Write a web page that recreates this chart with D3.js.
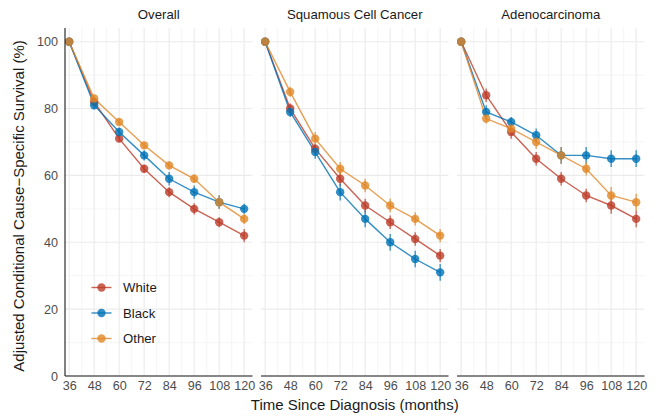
<!DOCTYPE html>
<html><head><meta charset="utf-8">
<script src="https://cdn.jsdelivr.net/npm/d3@7"></script>
<style>body{margin:0;background:#fff;}svg{display:block;font-family:"Liberation Sans",Arial,sans-serif;}</style>
</head><body><svg id="c" width="659" height="416"></svg>
<script>
const months = [36, 48, 60, 72, 84, 96, 108, 120];
const panels = ["Overall", "Squamous Cell Cancer", "Adenocarcinoma"];
const groups = ["White", "Black", "Other"];
const colors = ["#BC3C29", "#0072B5", "#E18727"];
const yTicks = [0, 20, 40, 60, 80, 100];

// Overall
const overallWhite = [100, 82, 71, 62, 55, 50, 46, 42];
const overallBlack = [100, 81, 73, 66, 59, 55, 52, 50];
const overallOther = [100, 83, 76, 69, 63, 59, 52, 47];
const overallWhiteErr = [0, 1, 1, 1.2, 1.5, 1.7, 1.5, 2];
const overallBlackErr = [0, 1.2, 1.3, 1.5, 2, 2, 2, 1.5];
const overallOtherErr = [0, 1, 1, 1, 1.2, 1.3, 2, 1.5];
// Squamous
const squamousWhite = [100, 80, 68, 59, 51, 46, 41, 36];
const squamousBlack = [100, 79, 67, 55, 47, 40, 35, 31];
const squamousOther = [100, 85, 71, 62, 57, 51, 47, 42];
const squamousWhiteErr = [0, 1.5, 1.5, 2, 2, 2, 2, 2];
const squamousBlackErr = [0, 1.5, 2, 2.5, 2.5, 2.5, 2.5, 2.5];
const squamousOtherErr = [0, 1.5, 2, 2, 2, 2, 2, 2];
// Adenocarcinoma
const adenoWhite = [100, 84, 73, 65, 59, 54, 51, 47];
const adenoBlack = [100, 79, 76, 72, 66, 66, 65, 65];
const adenoOther = [100, 77, 74, 70, 66, 62, 54, 52];
const adenoWhiteErr = [0, 2, 2, 2, 2, 2, 2.5, 2.5];
const adenoBlackErr = [0, 2, 1.5, 2, 2.5, 2.5, 2.5, 2.5];
const adenoOtherErr = [0, 1.5, 1.5, 2, 2.5, 2, 2.5, 2.5];

const panelData = [
  [[overallWhite, overallWhiteErr], [overallBlack, overallBlackErr], [overallOther, overallOtherErr]],
  [[squamousWhite, squamousWhiteErr], [squamousBlack, squamousBlackErr], [squamousOther, squamousOtherErr]],
  [[adenoWhite, adenoWhiteErr], [adenoBlack, adenoBlackErr], [adenoOther, adenoOtherErr]]
];

const svg = d3.select("#c");
const pTop = 28, pBottom = 376, pw = 187.5;
const lefts = [65, 261, 457];
const y = d3.scaleLinear().domain([0, 104.1]).range([pBottom, pTop]);
const alpha = 0.8;
const tickFont = 12.6;

panelData.forEach((series, pi) => {
  const x = d3.scaleLinear().domain([34, 124]).range([lefts[pi], lefts[pi] + pw]);
  const g = svg.append("g");
  // minor grid
  const minorX = d3.range(42, 120, 12);
  g.selectAll(".mx").data(minorX).join("line")
    .attr("x1", d => x(d)).attr("x2", d => x(d)).attr("y1", pTop).attr("y2", pBottom)
    .attr("stroke", "#f0f0f0").attr("stroke-width", 0.6);
  g.selectAll(".my").data([10, 30, 50, 70, 90]).join("line")
    .attr("x1", lefts[pi]).attr("x2", lefts[pi] + pw).attr("y1", d => y(d)).attr("y2", d => y(d))
    .attr("stroke", "#f0f0f0").attr("stroke-width", 0.6);
  // major grid
  g.selectAll(".Mx").data(months).join("line")
    .attr("x1", d => x(d)).attr("x2", d => x(d)).attr("y1", pTop).attr("y2", pBottom)
    .attr("stroke", "#ebebeb").attr("stroke-width", 1.1);
  g.selectAll(".My").data(yTicks).join("line")
    .attr("x1", lefts[pi]).attr("x2", lefts[pi] + pw).attr("y1", d => y(d)).attr("y2", d => y(d))
    .attr("stroke", "#ebebeb").attr("stroke-width", 1.1);
  // x axis
  const xa = d3.axisBottom(x).tickValues(months).tickSize(0).tickPadding(5);
  const ax = svg.append("g").attr("transform", `translate(0,${pBottom})`).call(xa);
  ax.select(".domain").remove();
  ax.selectAll("text").attr("font-size", tickFont).attr("fill", "#4d4d4d").attr("font-family", "Liberation Sans, Arial, sans-serif");
  svg.append("line").attr("x1", lefts[pi]).attr("x2", lefts[pi] + pw).attr("y1", pBottom).attr("y2", pBottom)
    .attr("stroke", "#1a1a1a").attr("stroke-width", 1.1);
  // facet title
  svg.append("text").attr("x", lefts[pi] + pw / 2).attr("y", 19).attr("text-anchor", "middle")
    .attr("font-size", 13.2).attr("fill", "#1a1a1a").text(panels[pi]);

  const line = d3.line().x((d, i) => x(months[i])).y(d => y(d));
  series.forEach(([vals, errs], si) => {
    const sg = svg.append("g").attr("opacity", alpha);
    sg.append("path").attr("d", line(vals)).attr("fill", "none")
      .attr("stroke", colors[si]).attr("stroke-width", 1.4);
  });
  series.forEach(([vals, errs], si) => {
    const sg = svg.append("g").attr("opacity", alpha);
    sg.selectAll("line.e").data(vals).join("line")
      .attr("x1", (d, i) => x(months[i])).attr("x2", (d, i) => x(months[i]))
      .attr("y1", (d, i) => y(d - errs[i])).attr("y2", (d, i) => y(d + errs[i]))
      .attr("stroke", colors[si]).attr("stroke-width", 1.3);
  });
  series.forEach(([vals, errs], si) => {
    svg.append("g").selectAll("circle").data(vals).join("circle")
      .attr("cx", (d, i) => x(months[i])).attr("cy", d => y(d)).attr("r", 4.2)
      .attr("fill", colors[si]).attr("fill-opacity", alpha);
  });
});

// y axis
const ya = d3.axisLeft(y).tickValues(yTicks).tickSize(0).tickPadding(7);
const ay = svg.append("g").attr("transform", `translate(${lefts[0]},0)`).call(ya);
ay.select(".domain").remove();
ay.selectAll("text").attr("font-size", tickFont).attr("fill", "#4d4d4d").attr("font-family", "Liberation Sans, Arial, sans-serif");
svg.append("line").attr("x1", lefts[0]).attr("x2", lefts[0]).attr("y1", pTop).attr("y2", pBottom)
  .attr("stroke", "#1a1a1a").attr("stroke-width", 1.1);

// axis titles
svg.append("text").attr("x", (lefts[0] + lefts[2] + pw) / 2).attr("y", 410).attr("text-anchor", "middle")
  .attr("font-size", 15).attr("fill", "#1a1a1a").text("Time Since Diagnosis (months)");
svg.append("text").attr("transform", `translate(24,${(pTop + pBottom) / 2 + 4}) rotate(-90)`).attr("text-anchor", "middle")
  .attr("font-size", 15).attr("fill", "#1a1a1a").text("Adjusted Conditional Cause\u2212Specific Survival (%)");

// legend
const legY = [287.5, 313, 338.5];
groups.forEach((gname, i) => {
  const lg = svg.append("g");
  lg.append("line").attr("x1", 91.5).attr("x2", 111.5).attr("y1", legY[i]).attr("y2", legY[i])
    .attr("stroke", colors[i]).attr("stroke-width", 1.4).attr("opacity", alpha);
  lg.append("circle").attr("cx", 101.5).attr("cy", legY[i]).attr("r", 4.2).attr("fill", colors[i]).attr("fill-opacity", alpha);
  lg.append("text").attr("x", 123).attr("y", legY[i] + 4.6).attr("font-size", 13.2).attr("fill", "#1a1a1a").text(gname);
});
</script></body></html>
